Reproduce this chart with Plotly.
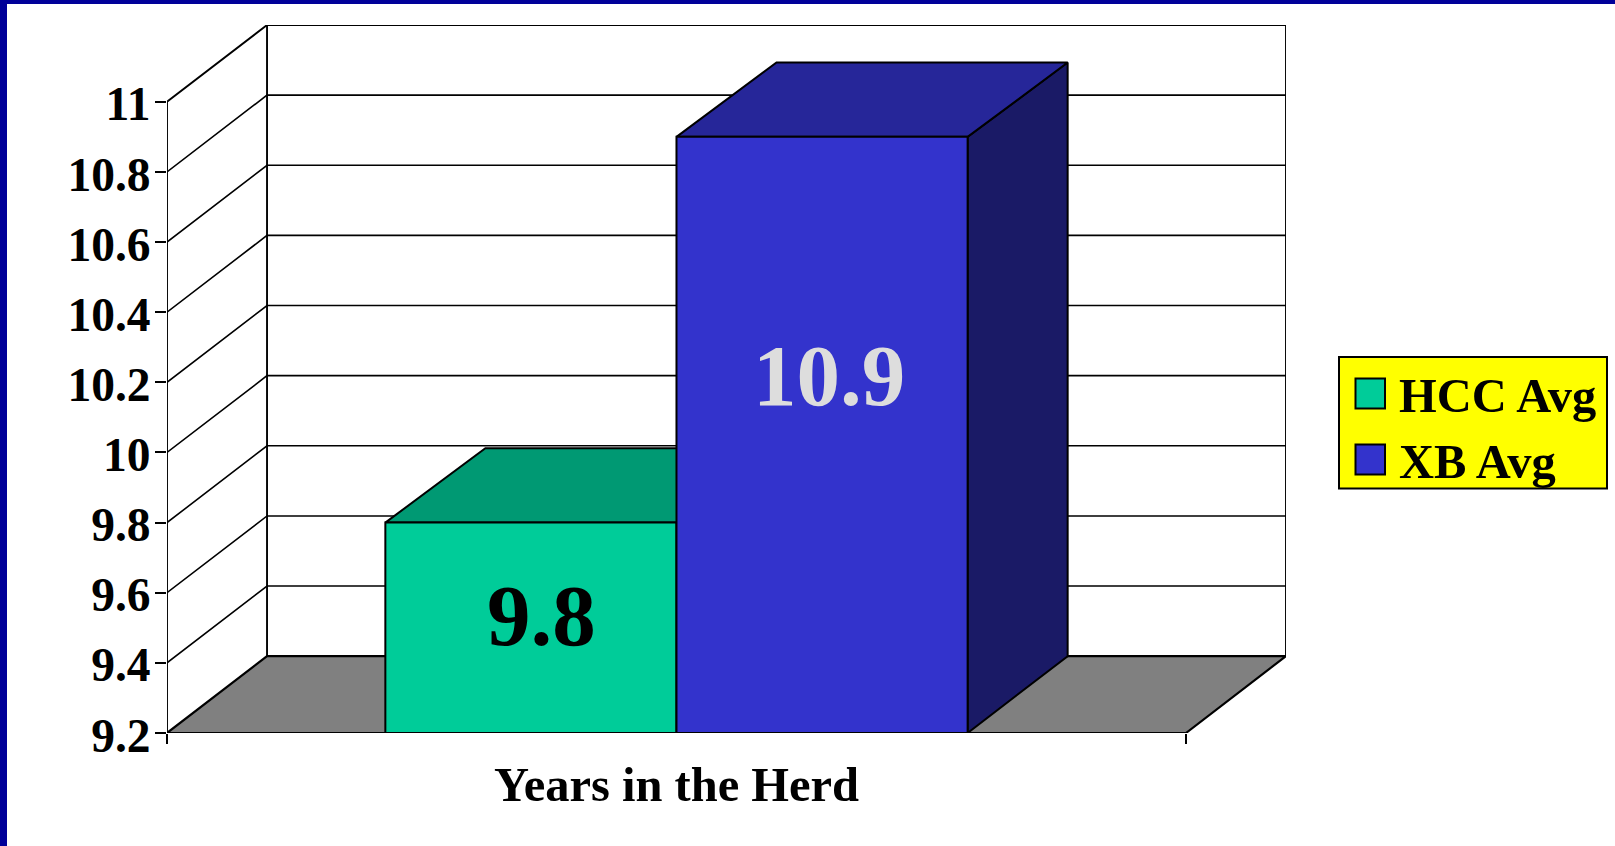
import plotly.graph_objects as go

categories = ["HCC Avg", "XB Avg"]
values = [9.8, 10.9]
value_labels = ["9.8", "10.9"]
tick_values = [9.2, 9.4, 9.6, 9.8, 10.0, 10.2, 10.4, 10.6, 10.8, 11.0]
tick_labels = ["9.2", "9.4", "9.6", "9.8", "10", "10.2", "10.4", "10.6", "10.8", "11"]
x_title = "Years in the Herd"

W, H = 1615, 846
L, R, T, B = 167, 329, 25, 113
FONT = "Liberation Serif"
FS = 48.5
TICK_FS = 47.5

front_colors = ["#00CC99", "#3333CC"]
top_colors = ["#009973", "#262699"]
side_colors = ["#006B50", "#1A1A66"]
label_colors = ["#000000", "#DDDDDD"]
label_x_shift = [0.035, 0.025]
label_y = [9.535, 10.219]

gap = 0.75
floor_w = gap * 2 + len(categories)
dx, dy = 0.3436, 0.219
bar_dy = 0.212
y0, y1 = tick_values[0], tick_values[-1]

fig = go.Figure()


def poly(xs, ys, fill=None, lw=2.0):
    fig.add_trace(go.Scatter(
        x=xs, y=ys, mode="lines", fill="toself" if fill else "none",
        fillcolor=fill, line=dict(color="#000000", width=lw),
        hoverinfo="skip", showlegend=False))


# walls and grid
gx, gy = [], []
for t in tick_values[1:-1]:
    gx += [0, dx, floor_w + dx, None]
    gy += [t, t + dy, t + dy, None]
poly(gx, gy, lw=1.6)
poly([0, 0, dx, floor_w + dx, floor_w + dx], [y0, y1, y1 + dy, y1 + dy, y0 + dy], lw=1.9)
poly([dx, dx], [y0 + dy, y1 + dy], lw=1.9)
# floor
poly([0, floor_w, floor_w + dx, dx, 0], [y0, y0, y0 + dy, y0 + dy, y0], fill="#808080", lw=2.2)

# bars, left to right so that each one covers the previous one
for i, v in enumerate(values):
    a, b = gap + i, gap + i + 1
    poly([b, b + dx, b + dx, b, b], [y0, y0 + dy, v + bar_dy, v, y0], fill=side_colors[i])
    poly([a, a + dx, b + dx, b, a], [v, v + bar_dy, v + bar_dy, v, v], fill=top_colors[i])
    poly([a, b, b, a, a], [y0, y0, v, v, y0], fill=front_colors[i])

annotations = []
for i, t in enumerate(value_labels):
    annotations.append(dict(
        x=gap + i + 0.5 + label_x_shift[i], y=label_y[i], xref="x", yref="y", text=f"<b>{t}</b>",
        showarrow=False, font=dict(family=FONT, size=87, color=label_colors[i])))

annotations.append(dict(
    x=floor_w / 2, xref="x", y=-51 / (H - T - B), yref="paper", text=f"<b>{x_title}</b>", showarrow=False,
    yanchor="middle", font=dict(family=FONT, size=FS, color="#000000")))


def px(x):
    return (x - L) / (W - L - R)


def py(y):
    return (H - B - y) / (H - T - B)


shapes = [
    # slide frame
    dict(type="rect", xref="paper", yref="paper", x0=px(0), x1=px(7), y0=py(0), y1=py(H),
         fillcolor="#000099", line_width=0, layer="above"),
    dict(type="rect", xref="paper", yref="paper", x0=px(0), x1=px(W), y0=py(0), y1=py(4),
         fillcolor="#000099", line_width=0, layer="above"),
    # legend box
    dict(type="rect", xref="paper", yref="paper", x0=px(1339), x1=px(1607), y0=py(357), y1=py(488.5),
         fillcolor="#FFFF00", line=dict(color="#000000", width=2), layer="above"),
]
legend_rows = [393.5, 459.5]
for name, color, row in zip(categories, front_colors, legend_rows):
    shapes.append(dict(type="rect", xref="paper", yref="paper", x0=px(1355.5), x1=px(1385),
                       y0=py(row - 15), y1=py(row + 15), fillcolor=color,
                       line=dict(color="#000000", width=2), layer="above"))
    annotations.append(dict(x=px(1397), y=py(row + 1.5), xref="paper", yref="paper", xanchor="left",
                            text=f"<b>{name}</b>", showarrow=False,
                            font=dict(family=FONT, size=FS, color="#000000")))

fig.update_layout(
    width=W, height=H, autosize=False,
    margin=dict(l=L, r=R, t=T, b=B, pad=0),
    paper_bgcolor="#FFFFFF", plot_bgcolor="#FFFFFF",
    showlegend=False, annotations=annotations, shapes=shapes,
    font=dict(family=FONT, size=FS, color="#000000"),
    xaxis=dict(range=[0, floor_w + dx], tickmode="array", tickvals=[0, floor_w], ticktext=["", ""],
               ticks="outside", ticklen=10, tickwidth=1.8, tickcolor="#000000",
               showgrid=False, zeroline=False, showline=False, fixedrange=True),
    yaxis=dict(range=[y0, y1 + dy], tickmode="array", tickvals=tick_values,
               ticktext=[f"<b>{t}</b>" for t in tick_labels],
               ticks="outside", ticklen=11, tickwidth=1.8, tickcolor="#000000",
               ticklabelstandoff=-5, ticklabelshift=2,
               tickfont=dict(family=FONT, size=TICK_FS, color="#000000"),
               showgrid=False, zeroline=False, showline=False, fixedrange=True),
)

fig.write_html("out.html", config={"displayModeBar": False},
               post_script="document.body.style.margin='0';document.documentElement.style.overflow='hidden';")
